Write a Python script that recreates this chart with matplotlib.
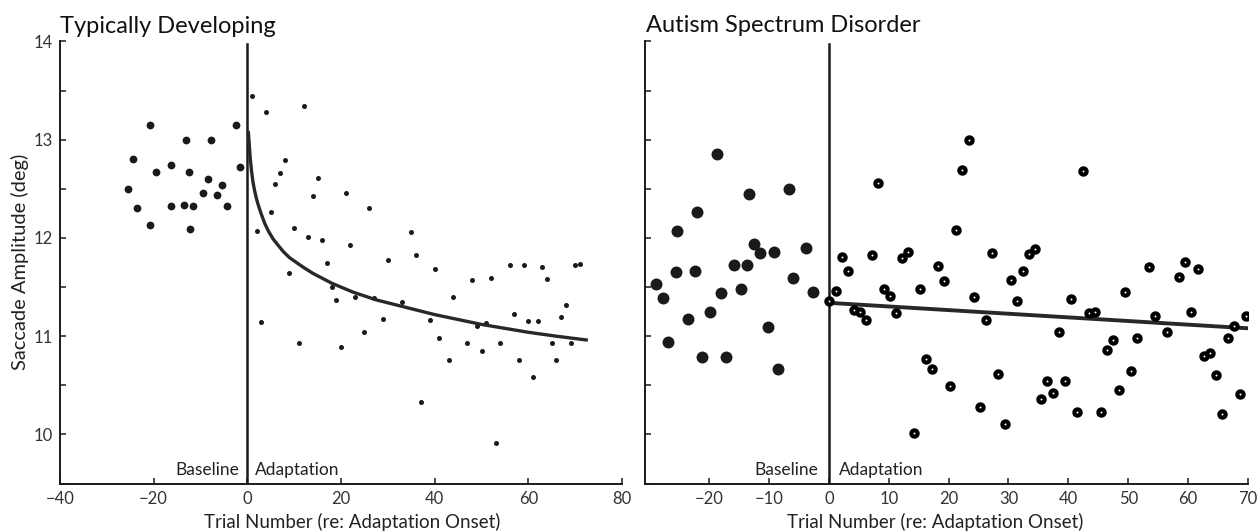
import numpy as np
import matplotlib.pyplot as plt
from matplotlib.ticker import MultipleLocator, NullFormatter

plt.rcParams['font.family'] = ['Lato', 'DejaVu Sans']

# ---- Typically Developing ----
td_base_x = [-25.5, -24.5, -23.5, -20.7, -20.7, -19.5, -16.4, -16.4, -13.5, -13.2, -12.5,
             -12.2, -11.5, -9.5, -8.4, -7.8, -6.5, -5.4, -4.4, -2.4, -1.5]
td_base_y = [12.50, 12.80, 12.31, 13.15, 12.13, 12.67, 12.74, 12.33, 12.34, 13.00, 12.67,
             12.09, 12.33, 12.46, 12.60, 13.00, 12.44, 12.54, 12.33, 13.15, 12.72]

td_adapt_x = [1, 2, 3, 4, 5, 6, 7, 8, 9, 10, 11, 12, 13, 14, 15, 16, 17, 18, 19, 20,
              21, 22, 23, 25, 26, 27, 29, 30, 33, 35, 36, 37, 39, 40, 41, 43, 44, 47, 48,
              49, 50, 51, 52, 53, 54, 56, 57, 58, 59, 60, 61, 62, 63, 64, 65, 66, 67, 68,
              69, 70, 71]
td_adapt_y = [13.45, 12.07, 11.14, 13.28, 12.26, 12.55, 12.66, 12.79, 11.64, 12.10, 10.93,
              13.34, 12.01, 12.43, 12.61, 11.98, 11.75, 11.50, 11.37, 10.89, 12.46, 11.93,
              11.40, 11.04, 12.31, 11.39, 11.18, 11.78, 11.35, 12.06, 11.83, 10.33, 11.17,
              11.68, 10.98, 10.76, 11.40, 10.93, 11.57, 11.10, 10.85, 11.13, 11.59, 9.91,
              10.93, 11.72, 11.23, 10.76, 11.72, 11.15, 10.59, 11.15, 11.70, 11.58, 10.93,
              10.76, 11.20, 11.32, 10.93, 11.73, 11.74]

# fitted curve
td_fit_x = [0.2, 0.4, 0.6, 0.9, 1.2, 1.6, 2.0, 2.5, 3.0, 3.7, 4.5, 5.5, 6.5, 7.7, 9.0,
            10.5, 12.0, 14.0, 16.0, 18.0, 20.0, 22.5, 25.0, 27.5, 30.0, 35.0, 40.0,
            45.0, 50.0, 55.0, 60.0, 66.0, 72.7]
td_fit_y = [13.09, 12.96, 12.82, 12.68, 12.57, 12.47, 12.39, 12.31, 12.24, 12.15, 12.07,
            11.99, 11.93, 11.86, 11.80, 11.75, 11.70, 11.64, 11.59, 11.54, 11.50, 11.45,
            11.41, 11.37, 11.34, 11.28, 11.22, 11.17, 11.12, 11.08, 11.04, 11.00, 10.96]

# ---- Autism Spectrum Disorder ----
asd_base_x = [-28.8, -27.7, -26.9, -25.5, -25.3, -23.6, -22.3, -22.0, -21.2, -19.8, -18.7,
              -18.0, -17.1, -15.8, -14.7, -13.6, -13.4, -12.5, -11.5, -10.1, -9.2, -8.5,
              -6.6, -6.0, -3.8, -2.7]
asd_base_y = [11.53, 11.39, 10.94, 11.65, 12.07, 11.18, 11.66, 12.26, 10.79, 11.25, 12.85,
              11.44, 10.79, 11.73, 11.48, 11.73, 12.45, 11.94, 11.85, 11.09, 11.86, 10.67,
              12.50, 11.59, 11.90, 11.45]

asd_adapt_x = [0.1, 1.2, 2.2, 3.2, 4.2, 5.2, 6.2, 7.2, 8.2, 9.2, 10.2, 11.2, 12.2, 13.3,
               14.2, 15.3, 16.2, 17.2, 18.3, 19.3, 20.3, 21.3, 22.3, 23.4, 24.3, 25.3,
               26.3, 27.3, 28.3, 29.4, 30.4, 31.4, 32.4, 33.4, 34.4, 35.4, 36.4, 37.4,
               38.4, 39.4, 40.4, 41.4, 42.5, 43.4, 44.5, 45.5, 46.5, 47.5, 48.5, 49.5,
               50.5, 51.5, 53.5, 54.5, 56.5, 58.5, 59.5, 60.5, 61.6, 62.6, 63.6, 64.6,
               65.6, 66.6, 67.6, 68.6, 69.6]
asd_adapt_y = [11.36, 11.46, 11.81, 11.66, 11.27, 11.25, 11.17, 11.83, 12.56, 11.48, 11.41,
               11.24, 11.80, 11.86, 10.02, 11.48, 10.77, 10.67, 11.71, 11.56, 10.49, 12.08,
               12.69, 13.00, 11.40, 10.28, 11.17, 11.85, 10.62, 10.11, 11.57, 11.36, 11.66,
               11.84, 11.89, 10.36, 10.54, 10.42, 11.04, 10.54, 11.38, 10.23, 12.68, 11.24,
               11.25, 10.23, 10.86, 10.96, 10.45, 11.45, 10.65, 10.98, 11.70, 11.21, 11.04,
               11.60, 11.76, 11.25, 11.68, 10.80, 10.83, 10.61, 10.21, 10.98, 11.10, 10.41,
               11.21]

asd_fit_x = [0.0, 70.2]
asd_fit_y = [11.34, 11.08]

ink = '#1a1a1a'
fit_col = '#2b2728'

fig = plt.figure(figsize=(12.6, 5.32), dpi=100)
ax1 = fig.add_axes([0.0476, 0.091, 0.4461, 0.831])
ax2 = fig.add_axes([0.5119, 0.091, 0.4786, 0.831])


def style(ax):
    for s in ['top', 'right']:
        ax.spines[s].set_visible(False)
    for s in ['left', 'bottom']:
        ax.spines[s].set_linewidth(1.4)
        ax.spines[s].set_color(ink)
    ax.tick_params(which='both', direction='in', width=1.1, color=ink,
                   labelsize=12, labelcolor='#333333')
    ax.tick_params(which='major', length=4.5, pad=5)
    ax.tick_params(which='minor', length=4.5)
    ax.set_ylim(9.5, 14)
    ax.axvline(0, color=ink, lw=1.8, ymax=0.995)
    ax.text(-1.8, 9.59, 'Baseline', ha='right', va='baseline', fontsize=12.5, color='#222222')
    ax.text(1.7, 9.59, 'Adaptation', ha='left', va='baseline', fontsize=12.5, color='#222222')


# left panel
style(ax1)
ax1.set_xlim(-40, 80)
ax1.set_xticks([-40, -20, 0, 20, 40, 60, 80])
ax1.yaxis.set_major_locator(MultipleLocator(1))
ax1.yaxis.set_minor_locator(MultipleLocator(0.5))
ax1.plot(td_base_x, td_base_y, 'o', ms=5.6, color=ink, mec='none')
ax1.plot(td_adapt_x, td_adapt_y, 'o', ms=3.6, color=ink, mec='none')
ax1.plot(td_fit_x, td_fit_y, '-', color=fit_col, lw=2.4, solid_capstyle='butt')

# right panel
style(ax2)
ax2.set_xlim(-30.7, 70)
ax2.set_xticks(np.arange(-20, 71, 10))
ax2.yaxis.set_major_locator(MultipleLocator(0.5))
ax2.yaxis.set_major_formatter(NullFormatter())
ax2.plot(asd_base_x, asd_base_y, 'o', ms=8.6, color=ink, mec='none')
ax2.plot(asd_fit_x, asd_fit_y, '-', color=fit_col, lw=2.8, solid_capstyle='butt')
ax2.plot(asd_adapt_x, asd_adapt_y, 'o', ms=4.5, mfc='white', mec='black', mew=3.0)

fig.text(0.0476, 0.938, 'Typically Developing', fontsize=17, va='baseline', color='#111111')
fig.text(0.5127, 0.939, 'Autism Spectrum Disorder', fontsize=17, va='baseline', color='#111111')
fig.text(0.016, 0.5075, 'Saccade Amplitude (deg)', rotation=90, ha='center', va='center',
         fontsize=14.5, color='#222222')
fig.text(0.2794, 0.008, 'Trial Number (re: Adaptation Onset)', ha='center', va='baseline',
         fontsize=13.5, color='#222222')
fig.text(0.742, 0.008, 'Trial Number (re: Adaptation Onset)', ha='center', va='baseline',
         fontsize=13.5, color='#222222')

fig.savefig('out.png', dpi=100)
